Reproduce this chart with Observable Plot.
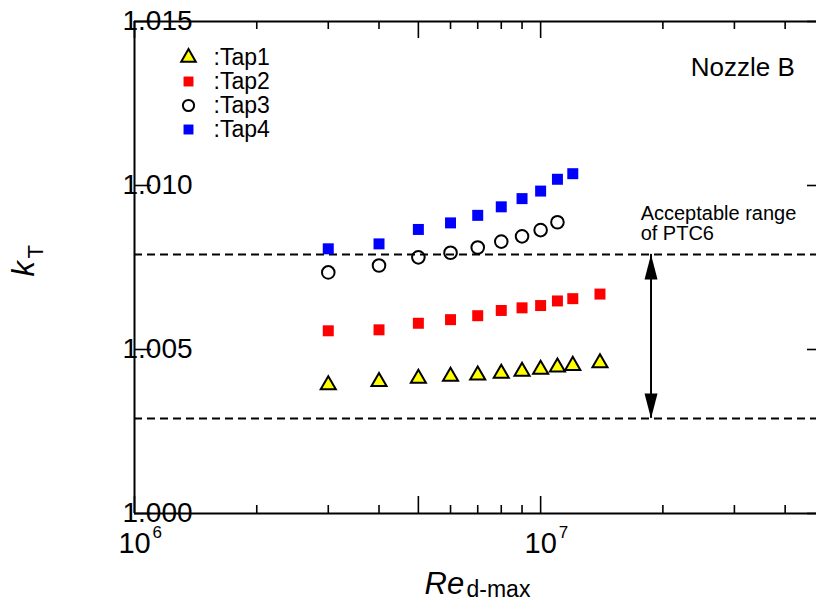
<!DOCTYPE html>
<html>
<head>
<meta charset="utf-8">
<script src="https://cdn.jsdelivr.net/npm/d3@7"></script>
<script src="https://cdn.jsdelivr.net/npm/@observablehq/plot@0.6"></script>
<style>
  html, body { margin: 0; padding: 0; background: #fff; overflow: hidden; }
  #chart svg { display: block; font-family: "Liberation Sans", Arial, sans-serif; }
</style>
</head>
<body>
<div id="chart"></div>
<script>
// ---- data ----
const re = [3e6, 4e6, 5e6, 6e6, 7e6, 8e6, 9e6, 1e7, 1.1e7, 1.2e7, 1.4e7];
const tap1 = [1.00392, 1.00402, 1.00412, 1.00418, 1.00422, 1.00427, 1.00433, 1.00439, 1.00446, 1.00451, 1.00459];
const tap2 = [1.00557, 1.00560, 1.00580, 1.00591, 1.00603, 1.00619, 1.00627, 1.00634, 1.00648, 1.00655, 1.00669];
const tap3 = [1.00735, 1.00756, 1.00781, 1.00795, 1.00811, 1.00829, 1.00845, 1.00864, 1.00888];
const tap4 = [1.00807, 1.00822, 1.00866, 1.00886, 1.00909, 1.00935, 1.00960, 1.00983, 1.01019, 1.01036];
const seriesNames = [":Tap1", ":Tap2", ":Tap3", ":Tap4"];

const ptcLimits = [1.0029, 1.0079];
const arrowRe = 1.87e7;
const yTicks = [1.000, 1.005, 1.010, 1.015];
const xMajorTicks = [1e6, 5e6, 1e7, 5e7];
const xMinorTicks = [2e6, 3e6, 4e6, 6e6, 7e6, 8e6, 9e6, 2e7, 3e7, 4e7];
const xLabelTicks = [{v: 1e6, e: "6"}, {v: 1e7, e: "7"}];
const noteLines = "Acceptable range\nof PTC6";
const noteRe = 1.763e7, noteK = 1.00939;
const nozzleText = "Nozzle B", nozzleRe = 2.342e7, nozzleK = 1.0139;

const rows = (vals) => vals.map((k, i) => ({re: re[i], k}));

// ---- sizes ----
const W = 816, H = 601, mL = 134, mT = 21, mB = 88, mR = 0;
const frameW = W - mL - mR, frameH = H - mT - mB;
const font = "Liberation Sans, Arial, sans-serif";

const headUp = {draw(ctx) { ctx.moveTo(0, 0); ctx.lineTo(-6.5, 25); ctx.lineTo(6.5, 25); ctx.closePath(); }};
const headDown = {draw(ctx) { ctx.moveTo(0, 0); ctx.lineTo(-6.5, -25); ctx.lineTo(6.5, -25); ctx.closePath(); }};

const legendItems = [
  {name: seriesNames[0], symbol: "triangle", fill: "#ffff00", stroke: "#000", r: 5.4, sw: 2},
  {name: seriesNames[1], symbol: "square", fill: "#ff0000", stroke: "none", r: 5.6, sw: 0},
  {name: seriesNames[2], symbol: "circle", fill: "none", stroke: "#000", r: 5.6, sw: 2},
  {name: seriesNames[3], symbol: "square", fill: "#0000ff", stroke: "none", r: 5.6, sw: 0}
];

const legendMarks = legendItems.flatMap((it, i) => [
  Plot.dot([it], {frameAnchor: "top-left", dx: 54, dy: 36 + i * 24, symbol: it.symbol, r: it.r,
    fill: it.fill, stroke: it.stroke, strokeWidth: it.sw}),
  Plot.text([it], {frameAnchor: "top-left", dx: 79, dy: 36 + i * 24, text: d => d.name,
    textAnchor: "start", lineAnchor: "middle", fontSize: 23, fill: "#000"})
]);

const chart = Plot.plot({
  width: W, height: H,
  marginLeft: mL, marginRight: mR, marginTop: mT, marginBottom: mB,
  style: {fontFamily: font, background: "#fff", overflow: "visible"},
  x: {type: "log", domain: [1e6, 5e7], range: [mL, 824], axis: null},
  y: {domain: [1.000, 1.015], axis: null},
  marks: [
    // PTC6 limits
    Plot.ruleY(ptcLimits, {stroke: "#000", strokeWidth: 2, strokeDasharray: "8,5"}),
    // arrow
    Plot.ruleX([arrowRe], {y1: ptcLimits[0], y2: ptcLimits[1], stroke: "#000", strokeWidth: 2}),
    Plot.dot([arrowRe], {x: d => d, y: () => ptcLimits[1], symbol: headUp, fill: "#000", stroke: "none"}),
    Plot.dot([arrowRe], {x: d => d, y: () => ptcLimits[0], symbol: headDown, fill: "#000", stroke: "none"}),
    // frame lines
    Plot.ruleY([1.000, 1.015], {stroke: "#000", strokeWidth: 2}),
    Plot.ruleX([1e6], {stroke: "#000", strokeWidth: 2}),
    // x ticks (inward), bottom and top
    Plot.tickX(xMinorTicks, {x: d => d, insetTop: frameH - 8, stroke: "#000", strokeWidth: 1.6}),
    Plot.tickX(xMajorTicks, {x: d => d, insetTop: frameH - 17, stroke: "#000", strokeWidth: 1.6}),
    Plot.tickX(xMinorTicks, {x: d => d, insetBottom: frameH - 8, stroke: "#000", strokeWidth: 1.6}),
    Plot.tickX(xMajorTicks, {x: d => d, insetBottom: frameH - 17, stroke: "#000", strokeWidth: 1.6}),
    // y ticks left and right (right axis lies at 5e7, just off the page)
    Plot.tickY(yTicks, {y: d => d, insetRight: frameW - 17, stroke: "#000", strokeWidth: 1.6}),
    Plot.tickY(yTicks, {y: d => d, insetLeft: frameW - 9, stroke: "#000", strokeWidth: 1.6}),
    // y tick labels
    Plot.text(yTicks, {y: d => d, frameAnchor: "left", text: d => d3.format(".3f")(d),
      textAnchor: "start", lineAnchor: "middle", dx: -12, fontSize: 28, fill: "#000"}),
    // x tick labels 10^n
    Plot.text(xLabelTicks, {x: d => d.v, frameAnchor: "bottom", text: () => "10",
      textAnchor: "middle", lineAnchor: "top", dy: 19, fontSize: 29, fill: "#000"}),
    Plot.text(xLabelTicks, {x: d => d.v, frameAnchor: "bottom", text: d => d.e,
      textAnchor: "start", lineAnchor: "top", dx: 18, dy: 12, fontSize: 17, fill: "#000"}),
    // axis titles
    Plot.text(["Re"], {frameAnchor: "bottom-left", text: d => d, textAnchor: "start", lineAnchor: "bottom",
      dx: 290, dy: 80, fontSize: 31, fontStyle: "italic", fill: "#000"}),
    Plot.text(["d-max"], {frameAnchor: "bottom-left", text: d => d, textAnchor: "start", lineAnchor: "bottom",
      dx: 332, dy: 83, fontSize: 23, fill: "#000"}),
    Plot.text(["k"], {frameAnchor: "left", text: d => d, rotate: -90, textAnchor: "start", lineAnchor: "bottom",
      dx: -101, dy: 9, fontSize: 31, fontStyle: "italic", fill: "#000"}),
    Plot.text(["T"], {frameAnchor: "left", text: d => d, rotate: -90, textAnchor: "start", lineAnchor: "bottom",
      dx: -92, dy: -9, fontSize: 22, fill: "#000"}),
    // annotations
    Plot.text([noteLines], {x: () => noteRe, y: () => noteK, text: d => d, textAnchor: "start",
      lineAnchor: "top", lineHeight: 1.0, fontSize: 20, fill: "#000"}),
    Plot.text([nozzleText], {x: () => nozzleRe, y: () => nozzleK, text: d => d, textAnchor: "start",
      lineAnchor: "top", fontSize: 26, fill: "#000"}),
    // data
    Plot.dot(rows(tap4), {x: "re", y: "k", symbol: "square", r: 6.2, fill: "#0000ff"}),
    Plot.dot(rows(tap3), {x: "re", y: "k", symbol: "circle", r: 6.3, fill: "none", stroke: "#000", strokeWidth: 2}),
    Plot.dot(rows(tap2), {x: "re", y: "k", symbol: "square", r: 6.2, fill: "#ff0000"}),
    Plot.dot(rows(tap1), {x: "re", y: "k", symbol: "triangle", r: 5.6, fill: "#ffff00", stroke: "#000", strokeWidth: 2}),
    ...legendMarks
  ]
});
document.getElementById("chart").append(chart);
</script>
</body>
</html>
